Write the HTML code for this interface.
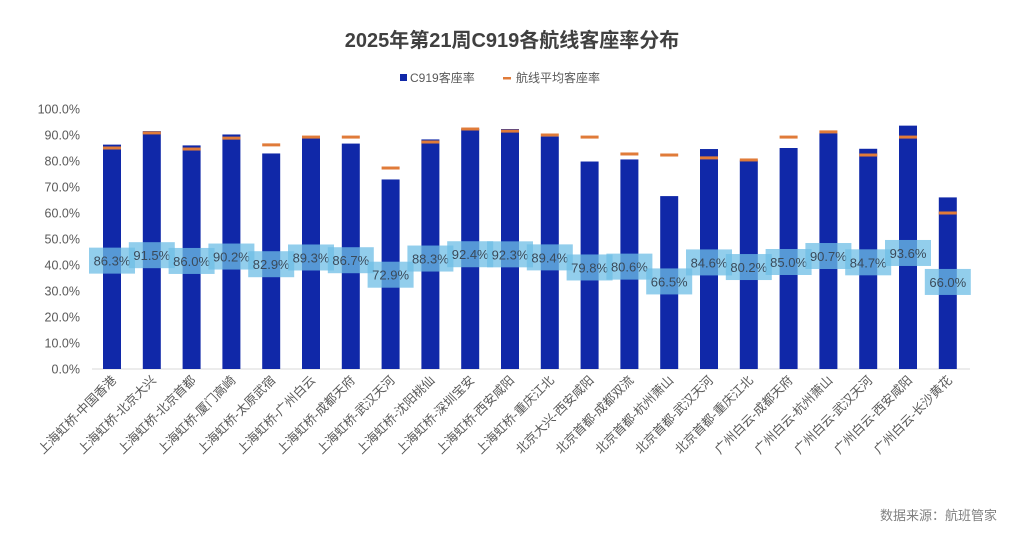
<!DOCTYPE html>
<html><head><meta charset="utf-8"><style>
body{margin:0;background:#fff;width:1024px;height:540px;overflow:hidden;font-family:"Liberation Sans","Noto Sans CJK SC",sans-serif;}
</style></head><body>
<svg id="chart" width="1024" height="540" xmlns="http://www.w3.org/2000/svg" font-family="Liberation Sans, Noto Sans CJK SC, sans-serif">
<text x="512" y="47" text-anchor="middle" font-size="20" font-weight="bold" fill="#404040">2025年第21周C919各航线客座率分布</text>
<g>
<rect x="400" y="74" width="7" height="7" fill="#1028a8"/>
<text x="410" y="82" font-size="12" fill="#595959">C919客座率</text>
<rect x="503" y="77" width="8" height="2.5" fill="#e07b39"/>
<text x="516" y="82" font-size="12" fill="#595959">航线平均客座率</text>
</g>
<g id="axes"></g><g id="bars"></g><g id="labels"></g>
<text x="997" y="520" text-anchor="end" font-size="13" fill="#808080">数据来源：航班管家</text>
</svg>
<script>
const categories=["上海虹桥-中国香港","上海虹桥-北京大兴","上海虹桥-北京首都","上海虹桥-厦门高崎","上海虹桥-太原武宿","上海虹桥-广州白云","上海虹桥-成都天府","上海虹桥-武汉天河","上海虹桥-沈阳桃仙","上海虹桥-深圳宝安","上海虹桥-西安咸阳","上海虹桥-重庆江北","北京大兴-西安咸阳","北京首都-成都双流","北京首都-杭州萧山","北京首都-武汉天河","北京首都-重庆江北","广州白云-成都天府","广州白云-杭州萧山","广州白云-武汉天河","广州白云-西安咸阳","广州白云-长沙黄花"];
const c919Rate=[86.3,91.5,86.0,90.2,82.9,89.3,86.7,72.9,88.3,92.4,92.3,89.4,79.8,80.6,66.5,84.6,80.2,85.0,90.7,84.7,93.6,66.0];
const avgRate=[85.0,90.8,84.6,88.8,86.2,89.2,89.2,77.3,87.3,92.3,91.5,90.0,89.2,82.7,82.3,81.2,80.4,89.2,91.2,82.3,89.2,60.0];
const yTicks=[0,10,20,30,40,50,60,70,80,90,100];
const NS="http://www.w3.org/2000/svg";
const y0=369,y1=109,x0=112,step=39.8,bw=18;
const yScale=v=>y0-(v/100)*(y0-y1);
const xScale=i=>x0+i*step;
function mk(tag,attrs,parent){const e=document.createElementNS(NS,tag);for(const k in attrs)e.setAttribute(k,attrs[k]);parent.appendChild(e);return e;}
const axes=document.getElementById('axes'),bars=document.getElementById('bars'),labels=document.getElementById('labels');
yTicks.forEach(t=>{const e=mk('text',{x:80,y:yScale(t)+4.5,'text-anchor':'end','font-size':12.5,fill:'#595959'},axes);


e.textContent=t.toFixed(1)+'%';});
const ax=mk('line',{x1:92,x2:970,y1:y0,y2:y0,stroke:'#d9d9d9'},axes);


categories.forEach((c,i)=>{
const cx=xScale(i);
const b=mk('rect',{x:cx-bw/2,y:yScale(c919Rate[i]),width:bw,height:y0-yScale(c919Rate[i]),fill:'#1028a8'},bars);


const a=mk('rect',{x:cx-bw/2,y:yScale(avgRate[i])-1.5,width:bw,height:3,fill:'#e07b39'},bars);


const ly=262-(c919Rate[i]-85)*1.05;
const bx=mk('rect',{x:cx-23,y:ly-13,width:46,height:26,fill:'rgba(110,190,230,0.75)'},labels);


const t=mk('text',{x:cx,y:ly+5,'text-anchor':'middle','font-size':13,fill:'#3a4a5a'},labels);


t.textContent=c919Rate[i].toFixed(1)+'%';
const xl=mk('text',{x:0,y:0,'text-anchor':'end','font-size':12.5,fill:'#595959',transform:`translate(${cx+5},${y0+12}) rotate(-45)`},axes);


xl.textContent=c;
});
</script>
</body></html>
